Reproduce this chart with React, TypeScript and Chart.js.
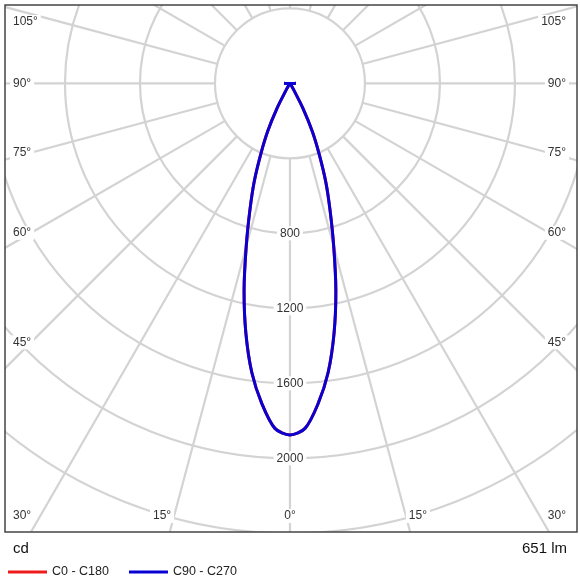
import { useEffect, useRef } from "react";
import { Chart, registerables } from "chart.js";

Chart.register(...registerables);

// Gamma angles (degrees from nadir) and luminous intensities (cd)
const ANGLES = [0, 2.5, 5, 7.5, 10, 12.5, 15, 17.5, 20, 22.5, 25, 27.5, 30, 32.5, 35, 40, 45, 50, 55, 60, 70, 80, 90];
const C0_C180 = [1875, 1842, 1716, 1557, 1354, 1131, 902, 712, 558, 405, 280, 150, 40, 8, 3, 2, 2, 2, 2, 2, 2, 2, 32];
const C90_C270 = [1875, 1842, 1716, 1557, 1354, 1131, 902, 712, 558, 405, 280, 150, 40, 8, 3, 2, 2, 2, 2, 2, 2, 2, 32];

const SERIES_NAMES = ["C0 - C180", "C90 - C270"];
const SERIES_COLORS = ["#ee1c1c", "#0800d2"];

const RINGS = [400, 800, 1200, 1600, 2000, 2400];
const RING_LABELS = [800, 1200, 1600, 2000];
const SPOKES = [0, 15, 30, 45, 60, 75, 90, 105, 120, 135, 150, 165, 180, 195, 210, 225, 240, 255, 270, 285, 300, 315, 330, 345];
const SIDE_LABELS = [30, 45, 60, 75, 90, 105];
const BOTTOM_LABELS = [0, 15];
const UNIT_LABEL = "cd";
const FLUX_LABEL = "651 lm";

// visible window of the diagram, in cd
const X_MIN = -1520;
const X_MAX = 1531;
const Y_MIN = -2393;
const Y_MAX = 418;

const FONT = "'Liberation Sans', Arial, sans-serif";

function polarPoints(values: number[]) {
  const pts: { x: number; y: number }[] = [];
  for (let i = ANGLES.length - 1; i >= 0; i--) {
    const t = (ANGLES[i] * Math.PI) / 180;
    pts.push({ x: -values[i] * Math.sin(t), y: -values[i] * Math.cos(t) });
  }
  for (let i = 1; i < ANGLES.length; i++) {
    const t = (ANGLES[i] * Math.PI) / 180;
    pts.push({ x: values[i] * Math.sin(t), y: -values[i] * Math.cos(t) });
  }
  return pts;
}

function label(ctx: CanvasRenderingContext2D, text: string, x: number, y: number, align: "left" | "right" | "center") {
  const w = ctx.measureText(text).width;
  let left = x;
  if (align === "center") left = x - w / 2;
  if (align === "right") left = x - w;
  ctx.fillStyle = "#ffffff";
  ctx.fillRect(left - 3, y - 7, w + 6, 14);
  ctx.fillStyle = "#333333";
  ctx.textAlign = "left";
  ctx.textBaseline = "middle";
  ctx.fillText(text, left, y);
}

const polarGrid = {
  id: "polarGrid",
  beforeDatasetsDraw(chart: any) {
    const { ctx, chartArea: ca, scales } = chart;
    const cx = scales.x.getPixelForValue(0);
    const cy = scales.y.getPixelForValue(0);
    const k = (scales.x.getPixelForValue(1000) - cx) / 1000;
    ctx.save();
    ctx.beginPath();
    ctx.rect(ca.left, ca.top, ca.right - ca.left, ca.bottom - ca.top);
    ctx.clip();
    ctx.strokeStyle = "#d3d3d3";
    ctx.lineWidth = 2.2;
    RINGS.forEach((r) => {
      ctx.beginPath();
      ctx.arc(cx, cy, r * k, 0, Math.PI * 2);
      ctx.stroke();
    });
    SPOKES.forEach((a) => {
      const t = (a * Math.PI) / 180;
      const dx = Math.sin(t);
      const dy = Math.cos(t);
      ctx.beginPath();
      ctx.moveTo(cx + dx * RINGS[0] * k, cy + dy * RINGS[0] * k);
      ctx.lineTo(cx + dx * 2000, cy + dy * 2000);
      ctx.stroke();
    });

    ctx.font = `12px ${FONT}`;
    RING_LABELS.forEach((r) => label(ctx, String(r), cx, cy + r * k, "center"));

    const xInner = ca.left + 26;
    SIDE_LABELS.forEach((a) => {
      const t = (a * Math.PI) / 180;
      let y = cy + ((cx - xInner) * Math.cos(t)) / Math.sin(t);
      y = Math.max(ca.top + 17, Math.min(ca.bottom - 16, y));
      label(ctx, `${a}°`, ca.left + 8, y, "left");
      label(ctx, `${a}°`, ca.right - 11, y, "right");
    });
    const yb = ca.bottom - 16;
    BOTTOM_LABELS.forEach((a) => {
      if (a === 0) {
        label(ctx, `${a}°`, cx, yb, "center");
      } else {
        const t = (a * Math.PI) / 180;
        const off = (yb - cy) * Math.tan(t) + 12;
        label(ctx, `${a}°`, cx - off, yb, "center");
        label(ctx, `${a}°`, cx + off, yb, "center");
      }
    });
    ctx.restore();
  },
  afterDraw(chart: any) {
    const { ctx, chartArea: ca } = chart;
    ctx.save();
    ctx.strokeStyle = "#444444";
    ctx.lineWidth = 1.5;
    ctx.strokeRect(ca.left, ca.top, ca.right - ca.left, ca.bottom - ca.top);

    ctx.fillStyle = "#111111";
    ctx.font = `15px ${FONT}`;
    ctx.textBaseline = "middle";
    ctx.textAlign = "left";
    ctx.fillText(UNIT_LABEL, ca.left + 8, ca.bottom + 17);
    ctx.textAlign = "right";
    ctx.fillText(FLUX_LABEL, ca.right - 10, ca.bottom + 17);

    const ly = ca.bottom + 40;
    ctx.font = `12.5px ${FONT}`;
    ctx.textAlign = "left";
    let lx = ca.left + 3;
    SERIES_NAMES.forEach((name, i) => {
      ctx.strokeStyle = SERIES_COLORS[i];
      ctx.lineWidth = 3;
      ctx.beginPath();
      ctx.moveTo(lx, ly);
      ctx.lineTo(lx + 39, ly);
      ctx.stroke();
      ctx.fillStyle = "#222222";
      ctx.fillText(name, lx + 44, ly);
      lx += 44 + ctx.measureText(name).width + 20;
    });
    ctx.restore();
  },
};

export default function App() {
  const ref = useRef<HTMLCanvasElement | null>(null);
  useEffect(() => {
    if (!ref.current) return;
    const chart = new Chart(ref.current, {
      type: "scatter",
      data: {
        datasets: [
          {
            label: SERIES_NAMES[0],
            data: polarPoints(C0_C180),
            borderColor: SERIES_COLORS[0],
            showLine: true,
            pointRadius: 0,
            borderWidth: 3,
            tension: 0.3,
            order: 2,
          },
          {
            label: SERIES_NAMES[1],
            data: polarPoints(C90_C270),
            borderColor: SERIES_COLORS[1],
            showLine: true,
            pointRadius: 0,
            borderWidth: 3,
            tension: 0.3,
            order: 1,
          },
        ],
      },
      options: {
        animation: false,
        responsive: false,
        events: [],
        layout: { padding: { left: 5, top: 5, right: 3, bottom: 48 } },
        scales: {
          x: { type: "linear", min: X_MIN, max: X_MAX, display: false },
          y: { type: "linear", min: Y_MIN, max: Y_MAX, display: false },
        },
        plugins: { legend: { display: false }, tooltip: { enabled: false } },
      },
      plugins: [polarGrid],
    });
    return () => chart.destroy();
  }, []);
  return (
    <div style={{ position: "absolute", left: 0, top: 0, width: 580, height: 580, background: "#fff" }}>
      <canvas ref={ref} width={580} height={580} style={{ display: "block" }} />
    </div>
  );
}
